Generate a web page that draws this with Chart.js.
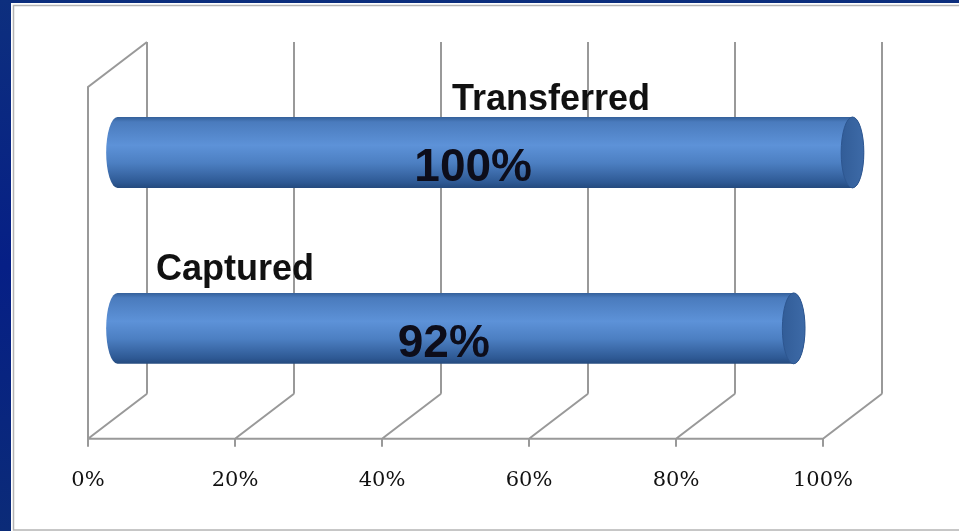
<!DOCTYPE html>
<html>
<head>
<meta charset="utf-8">
<script src="https://cdn.jsdelivr.net/npm/chart.js@4/dist/chart.umd.min.js"></script>
<style>
	html, body { margin: 0; padding: 0; background: #0c2a80; }
	canvas { display: block; }
</style>
</head>
<body>
<canvas id="my_chart" width="959" height="531"></canvas>
<script>
// Data
const categories = ['Transferred', 'Captured'];
const percentages = [100, 92];
const tickValues = [0, 20, 40, 60, 80, 100];

// 3D look - depth of the floor / walls
const DX = 59;
const DY = -45;
const gridColor = '#999999';

// where the category captions sit (scale units) and gap above the bar
const captionX = [63, 20];
const captionGap = [7, 13];

const threeD = {
	id: 'threeD',
	beforeDraw(chart) {
		const ctx = chart.ctx;
		const area = chart.chartArea;
		const xs = chart.scales.x;

		// slide frame
		const g = ctx.createLinearGradient(0, 0, 0, chart.height);
		g.addColorStop(0, '#0d2f7e');
		g.addColorStop(0.5, '#061f86');
		g.addColorStop(1, '#0b2b78');
		ctx.save();
		ctx.fillStyle = g;
		ctx.fillRect(0, 0, chart.width, chart.height);
		ctx.fillStyle = '#ffffff';
		ctx.fillRect(11, 3, chart.width - 11, chart.height - 3);
		ctx.strokeStyle = '#b4b4b4';
		ctx.lineWidth = 1.5;
		ctx.strokeRect(13.5, 5.5, chart.width, chart.height - 6.5);

		// walls and floor
		ctx.strokeStyle = gridColor;
		ctx.lineWidth = 2;
		ctx.beginPath();
		tickValues.forEach(v => {
			const px = xs.getPixelForValue(v);
			// back wall line
			ctx.moveTo(px + DX, area.top + DY);
			ctx.lineTo(px + DX, area.bottom + DY);
			// floor diagonal
			ctx.moveTo(px + DX, area.bottom + DY);
			ctx.lineTo(px, area.bottom);
			// tick mark
			ctx.moveTo(px, area.bottom);
			ctx.lineTo(px, area.bottom + 8);
		});
		// left side wall
		const x0 = xs.getPixelForValue(tickValues[0]);
		ctx.moveTo(x0, area.bottom);
		ctx.lineTo(x0, area.top);
		ctx.lineTo(x0 + DX, area.top + DY);
		// front floor edge
		ctx.moveTo(x0, area.bottom);
		ctx.lineTo(xs.getPixelForValue(tickValues[tickValues.length - 1]), area.bottom);
		ctx.stroke();
		ctx.restore();
	},
	afterDatasetsDraw(chart) {
		const ctx = chart.ctx;
		const xs = chart.scales.x;
		const meta = chart.getDatasetMeta(0);

		meta.data.forEach((el, i) => {
			const x0 = el.base + DX / 2;
			const x1 = el.x + DX / 2;
			const cy = el.y + DY / 2;
			const ry = el.height / 2;
			const rx = ry * 0.32;

			ctx.save();
			// body
			const body = ctx.createLinearGradient(0, cy - ry, 0, cy + ry);
			body.addColorStop(0, '#34609a');
			body.addColorStop(0.07, '#4a7bbd');
			body.addColorStop(0.4, '#5d92d8');
			body.addColorStop(0.65, '#4c7fc2');
			body.addColorStop(0.92, '#2e5994');
			body.addColorStop(1, '#244a7e');
			ctx.beginPath();
			ctx.moveTo(x0, cy - ry);
			ctx.lineTo(x1, cy - ry);
			ctx.ellipse(x1, cy, rx, ry, 0, -Math.PI / 2, Math.PI / 2);
			ctx.lineTo(x0, cy + ry);
			ctx.ellipse(x0, cy, rx, ry, 0, Math.PI / 2, Math.PI * 1.5);
			ctx.closePath();
			ctx.fillStyle = body;
			ctx.fill();

			// end cap
			const cap = ctx.createLinearGradient(x1 - rx, 0, x1 + rx, 0);
			cap.addColorStop(0, '#325d98');
			cap.addColorStop(1, '#3d6aa7');
			ctx.beginPath();
			ctx.ellipse(x1, cy, rx, ry, 0, 0, Math.PI * 2);
			ctx.fillStyle = cap;
			ctx.fill();
			ctx.strokeStyle = '#2d5690';
			ctx.lineWidth = 1;
			ctx.stroke();

			// value label
			ctx.fillStyle = '#0d0d1a';
			ctx.font = 'bold 46px "Liberation Sans", Arial, sans-serif';
			ctx.textAlign = 'center';
			ctx.textBaseline = 'middle';
			ctx.fillText(percentages[i] + '%', (el.base + el.x) / 2 + DX * 0.3, el.y + DY * 0.2 + 2);

			// category caption
			ctx.fillStyle = '#111111';
			ctx.font = 'bold 36px "Liberation Sans", Arial, sans-serif';
			ctx.textBaseline = 'alphabetic';
			ctx.fillText(categories[i], xs.getPixelForValue(captionX[i]), cy - ry - captionGap[i]);
			ctx.restore();
		});
	}
};

const ctx = document.getElementById('my_chart');
const chart = new Chart(ctx, {
	type: 'bar',
	data: {
		labels: categories,
		datasets: [{
			data: percentages,
			backgroundColor: 'rgba(0,0,0,0)',
			borderWidth: 0,
			categoryPercentage: 1,
			barPercentage: 0.403
		}]
	},
	options: {
		indexAxis: 'y',
		responsive: false,
		animation: false,
		events: [],
		layout: {
			padding: { left: 88, right: 136, top: 87, bottom: 9 }
		},
		plugins: {
			legend: { display: false },
			tooltip: { enabled: false }
		},
		scales: {
			x: {
				min: 0,
				max: 100,
				afterBuildTicks: s => { s.ticks = tickValues.map(v => ({ value: v })); },
				grid: { display: false, drawTicks: false },
				border: { display: false },
				ticks: {
					padding: 29,
					color: '#111111',
					font: { family: '"DejaVu Serif", serif', size: 21 },
					callback: v => v + '%'
				}
			},
			y: {
				display: false
			}
		}
	},
	plugins: [threeD]
});
</script>
</body>
</html>
